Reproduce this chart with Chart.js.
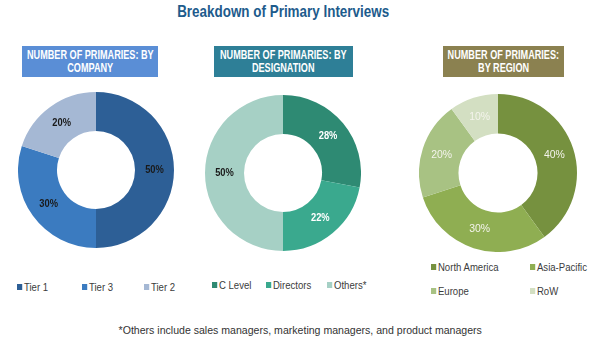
<!DOCTYPE html>
<html>
<head>
<meta charset="utf-8">
<script src="https://cdn.jsdelivr.net/npm/chart.js@4"></script>
<style>
  body { margin: 0; width: 600px; height: 345px; background: #fff; position: relative; overflow: hidden;
         font-family: "Liberation Sans", Arial, sans-serif; }
  .abs { position: absolute; }
  .sq { display: inline-block; white-space: nowrap; transform-origin: 50% 50%; }
  #title { left: 0; width: 566px; top: 2px; text-align: center; font-size: 17px; font-weight: bold; color: #1d5b8c; }
  #title .sq { transform: scaleX(0.79); }
  .hdr { color: #fff; font-weight: bold; font-size: 12px; line-height: 13px; text-align: center;
         display: flex; flex-direction: column; align-items: center; justify-content: center; }
  .hdr .sq { transform: scaleX(0.76); }
  .leg { font-size: 11px; color: #3c3c3c; white-space: nowrap; transform: scaleX(0.87); transform-origin: 0 50%; }
  .leg i { display: inline-block; width: 6px; height: 6px; margin-right: 2px; vertical-align: 1px; }
  #note { left: 0; width: 600px; top: 324px; text-align: center; font-size: 11px; color: #333; }
  #note .sq { transform: scaleX(0.96); }
</style>
</head>
<body>
<div id="title" class="abs"><span class="sq">Breakdown of Primary Interviews</span></div>

<div class="abs hdr" style="left:22px;top:46px;width:136px;height:31px;background:#5a8ed6;"><span class="sq">NUMBER OF PRIMARIES: BY</span><span class="sq">COMPANY</span></div>
<div class="abs hdr" style="left:214px;top:46px;width:139px;height:31px;background:#2e7f97;"><span class="sq">NUMBER OF PRIMARIES: BY</span><span class="sq">DESIGNATION</span></div>
<div class="abs hdr" style="left:443px;top:46px;width:121px;height:31px;background:#8b8150;"><span class="sq">NUMBER OF PRIMARIES:</span><span class="sq">BY REGION</span></div>

<canvas id="c1" class="abs" width="156" height="156" style="left:18px;top:92px;"></canvas>
<canvas id="c2" class="abs" width="156" height="156" style="left:205px;top:95px;"></canvas>
<canvas id="c3" class="abs" width="158" height="158" style="left:419px;top:94px;"></canvas>

<div id="note" class="abs"><span class="sq">*Others include sales managers, marketing managers, and product managers</span></div>

<script>
// ===============================
// DATOS
// ===============================
const companyLabels = ["Tier 1", "Tier 3", "Tier 2"];
const companyValues = [50, 30, 20];
const companyColors = ["#2d5f96", "#3b7bc0", "#a5b8d4"];
const companyTextColors = ["#1a1a1a", "#1a1a1a", "#1a1a1a"];

const designationLabels = ["C Level", "Directors", "Others*"];
const designationValues = [28, 22, 50];
const designationColors = ["#2e8a73", "#3aa98e", "#a6d0c5"];
const designationTextColors = ["#ffffff", "#ffffff", "#1a1a1a"];

const regionLabels = ["North America", "Asia-Pacific", "Europe", "RoW"];
const regionValues = [40, 30, 20, 10];
const regionColors = ["#76913f", "#8fae52", "#a8c283", "#d3dfc2"];
const regionTextColors = ["#f4f4ec", "#f4f4ec", "#f4f4ec", "#f4f4ec"];

// ===============================
// PLUGIN DE ETIQUETAS
// ===============================
const pctLabels = {
  id: "pctLabels",
  afterDatasetsDraw(chart, args, opts) {
    const ctx = chart.ctx;
    const meta = chart.getDatasetMeta(0);
    const ds = chart.data.datasets[0];
    meta.data.forEach((arc, i) => {
      const p = arc.tooltipPosition();
      ctx.save();
      ctx.translate(p.x, p.y);
      ctx.scale(opts.squeeze, 1);
      ctx.font = opts.font;
      ctx.textAlign = "center";
      ctx.textBaseline = "middle";
      ctx.fillStyle = opts.colors[i];
      ctx.fillText(ds.data[i] + "%", 0, 0);
      ctx.restore();
    });
  }
};

function buildDonut(id, labels, values, colors, textColors, font, squeeze) {
  new Chart(document.getElementById(id), {
    type: "doughnut",
    data: {
      labels: labels,
      datasets: [{ data: values, backgroundColor: colors, borderWidth: 0 }]
    },
    options: {
      responsive: false,
      animation: false,
      cutout: "50%",
      layout: { padding: 0 },
      plugins: {
        legend: { display: false },
        tooltip: { enabled: false },
        pctLabels: { colors: textColors, font: font, squeeze: squeeze }
      }
    },
    plugins: [pctLabels]
  });
}

// ===============================
// LEYENDAS
// ===============================
function buildLegend(labels, colors, positions) {
  labels.forEach((l, i) => {
    const d = document.createElement("div");
    d.className = "abs leg";
    d.style.left = positions[i][0] + "px";
    d.style.top = positions[i][1] + "px";
    d.innerHTML = '<i style="background:' + colors[i] + '"></i>';
    d.appendChild(document.createTextNode(l));
    document.body.appendChild(d);
  });
}

buildDonut("c1", companyLabels, companyValues, companyColors, companyTextColors, "bold 11px 'Liberation Sans', Arial, sans-serif", 0.85);
buildDonut("c2", designationLabels, designationValues, designationColors, designationTextColors, "bold 11px 'Liberation Sans', Arial, sans-serif", 0.85);
buildDonut("c3", regionLabels, regionValues, regionColors, regionTextColors, "11px 'Liberation Sans', Arial, sans-serif", 0.95);

buildLegend(companyLabels, companyColors, [[17, 281], [82, 281], [144, 281]]);
buildLegend(designationLabels, designationColors, [[212, 279], [266, 279], [327, 279]]);
buildLegend(regionLabels, regionColors, [[431, 261], [530, 261], [431, 285], [530, 285]]);
</script>
</body>
</html>
